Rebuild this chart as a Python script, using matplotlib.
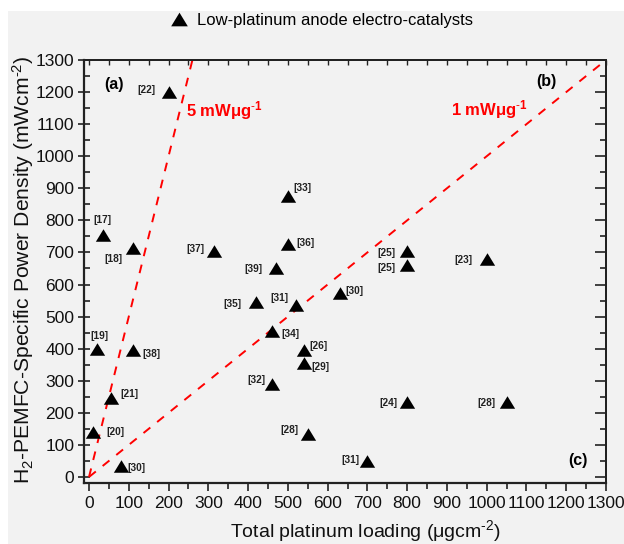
import matplotlib
matplotlib.use("Agg")
import matplotlib.pyplot as plt
from matplotlib.patches import Rectangle
from matplotlib.lines import Line2D
from matplotlib.ticker import MultipleLocator
import numpy as np

plt.rcParams['font.family'] = ['Liberation Sans', 'DejaVu Sans']
plt.rcParams['mathtext.fontset'] = 'custom'
plt.rcParams['mathtext.rm'] = 'Liberation Sans'
plt.rcParams['mathtext.bf'] = 'Liberation Sans:bold'
plt.rcParams['mathtext.it'] = 'Liberation Sans:italic'

# ---- data ----
refs = ['[22]', '[17]', '[18]', '[37]', '[33]', '[36]', '[39]', '[35]', '[31]', '[30]',
        '[34]', '[26]', '[29]', '[32]', '[19]', '[38]', '[21]', '[20]', '[30]', '[28]',
        '[31]', '[24]', '[28]', '[25]', '[25]', '[23]']
loading = [200, 35, 110, 315, 500, 500, 470, 420, 520, 630,
           460, 540, 540, 460, 20, 110, 55, 10, 80, 550,
           700, 800, 1050, 800, 800, 1000]
power = [1200, 755, 715, 705, 875, 725, 650, 545, 535, 575,
         455, 395, 355, 290, 400, 395, 245, 140, 35, 135,
         50, 235, 235, 705, 660, 680]
# label offsets in pixels (dx, dy) relative to marker
label_dx = [-22, 0, -19, -19, 15, 17.5, -22, -24, -16, 15,
            18, 14.5, 16.5, -16, 2.5, 19, 19, 22, 16, -18,
            -17, -19, -20, -21, -21, -23.5]
label_dy = [2, 14.5, -11.5, 2, 8, 1, -1, -2, 7, 2,
            -3, 4.5, -3.5, 4, 13, -4, 4, 0, -2, 4,
            1, -1, -1, -2.5, -3, -0.7]

slope_lines = [5, 1]          # mW per ug
slope_labels = ['5 mWμg$^{\\mathbf{\\text{-}1}}$', '1 mWμg$^{\\mathbf{\\text{-}1}}$']
panel_labels = ['(a)', '(b)', '(c)']

x_max = 1300
y_max = 1300

BG = '#f2f2f2'
fig = plt.figure(figsize=(6.24, 5.44), dpi=100, facecolor='white')
fig.patches.append(Rectangle((8 / 624, 0), 1 - 8 / 624, 1 - 11 / 544,
                             transform=fig.transFigure, facecolor=BG,
                             edgecolor='none', zorder=-10))

ax = fig.add_axes([84 / 624, 1 - 483 / 544, (606 - 84) / 624, (483 - 60) / 544])
ax.set_facecolor(BG)
ax.set_xlim(-12.6, x_max)
ax.set_ylim(-18.8, y_max)

tri = [(-1, -0.82), (1, -0.82), (0, 0.82)]

# slope lines
for s in slope_lines:
    xe = min(x_max, y_max / s)
    ax.plot([0, xe], [0, s * xe], color='#ff0000', lw=1.4, dashes=(4.5, 4.5), zorder=2)

ax.scatter(loading, power, marker=tri, s=11 ** 2, color='black', zorder=3,
           linewidths=0)

for r, x, y, dx, dy in zip(refs, loading, power, label_dx, label_dy):
    ax.annotate(r, (x, y), xytext=(dx, dy), textcoords='offset pixels',
                ha='center', va='center', fontsize=7.3, fontweight='bold',
                color='#222222', zorder=4)

# slope labels
ax.text(243, 1141, slope_labels[0], color='#ff0000', fontsize=12,
        fontweight='bold', ha='left', va='center')
ax.text(909, 1147, slope_labels[1], color='#ff0000', fontsize=12,
        fontweight='bold', ha='left', va='center')

# panel labels
ax.text(64, 1225, panel_labels[0], fontsize=11.5, fontweight='bold', ha='center', va='center')
ax.text(1149, 1233, panel_labels[1], fontsize=11.5, fontweight='bold', ha='center', va='center')
ax.text(1229, 51, panel_labels[2], fontsize=11.5, fontweight='bold', ha='center', va='center')

# ticks
ax.set_xticks(np.arange(0, 1301, 100))
ax.set_yticks(np.arange(0, 1301, 100))
ax.xaxis.set_minor_locator(MultipleLocator(50))
ax.yaxis.set_minor_locator(MultipleLocator(50))
ax.tick_params(axis='x', which='major', direction='out', length=6, width=1.2,
               labelsize=12.5, pad=3, colors='#222222')
ax.tick_params(axis='x', which='minor', direction='out', length=4, width=1.2, colors='#222222')
ax.tick_params(axis='y', which='major', direction='inout', length=8, width=1.2,
               labelsize=12.5, pad=3, colors='#222222')
ax.tick_params(axis='y', which='minor', direction='in', length=4, width=1.2, colors='#222222')
for lab in ax.get_xticklabels() + ax.get_yticklabels():
    lab.set_color('#111111')

for side in ['left', 'bottom']:
    ax.spines[side].set_linewidth(1.6)
    ax.spines[side].set_color('#222222')
for side in ['top', 'right']:
    ax.spines[side].set_linewidth(1.4)
    ax.spines[side].set_color('#222222')

secy = ax.secondary_yaxis('right')
secy.yaxis.set_major_locator(MultipleLocator(100))
secy.yaxis.set_minor_locator(MultipleLocator(50))
secy.tick_params(which='major', direction='in', length=8, width=1.2, labelright=False, colors='#222222')
secy.tick_params(which='minor', direction='in', length=4, width=1.2, colors='#222222')
secy.spines['right'].set_linewidth(1.4)
secy.spines['right'].set_color('#222222')

secx = ax.secondary_xaxis('top')
secx.xaxis.set_major_locator(MultipleLocator(100))
secx.xaxis.set_minor_locator(MultipleLocator(50))
secx.tick_params(which='both', direction='in', length=3.5, width=1.0, labeltop=False, colors='#222222')
secx.spines['top'].set_linewidth(1.4)
secx.spines['top'].set_color('#222222')

ax.set_xlabel('Total platinum loading (μgcm$^{\\text{-}2}$)', fontsize=14, color='#111111')
ax.xaxis.set_label_coords((365 - 84) / 522, (483 - 518) / 423)
ax.set_ylabel('H$_2$-PEMFC-Specific Power Density (mWcm$^{\\text{-}2}$)', fontsize=15.2,
              color='#111111')
ax.yaxis.set_label_coords((36 - 84) / 522, 0.505)

handle = Line2D([], [], marker=tri, color='black', ls='none', markersize=12, markeredgewidth=0)
fig.legend(handles=[handle], labels=['Low-platinum anode electro-catalysts'],
           loc='center', bbox_to_anchor=(0.514, 0.962), frameon=False, fontsize=12,
           handletextpad=0.5, handlelength=1.2)

fig.savefig('out.png', dpi=100, facecolor=fig.get_facecolor())
